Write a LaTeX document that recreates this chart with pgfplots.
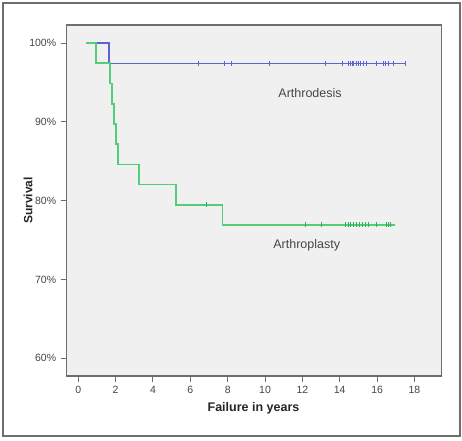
\documentclass[border=0pt]{standalone}
\usepackage{pgfplots}
\pgfplotsset{compat=1.18}
\usepackage{fontspec}
\setmainfont{Liberation Sans}
\definecolor{kmblue}{RGB}{90,100,215}
\definecolor{kmgreen}{RGB}{85,205,120}
\definecolor{kmgreenmark}{RGB}{40,180,80}
\definecolor{framegray}{RGB}{110,110,110}
\definecolor{bggray}{RGB}{240,240,240}
\definecolor{ticktext}{RGB}{70,70,70}
\begin{document}
\begin{tikzpicture}[x=1pt,y=1pt]
\useasboundingbox (0,0) rectangle (462,440);
\fill[white] (0,0) rectangle (462,440);
\draw[framegray, line width=2pt] (3,4) rectangle (459.5,437);
\begin{axis}[
  at={(66.7pt,64pt)}, anchor=south west,
  scale only axis, width=375pt, height=351pt,
  xmin=-0.62, xmax=19.46, ymin=57.75, ymax=102.3,
  axis background/.style={fill=bggray},
  axis line style={framegray, line width=1.2pt},
  tick align=outside, major tick length=6pt,
  tick style={framegray, line width=1pt},
  xtick={0,2,4,6,8,10,12,14,16,18},
  xticklabels={0,2,4,6,8,10,12,14,16,18},
  ytick={60,70,80,90,100},
  yticklabels={60\%,70\%,80\%,90\%,100\%},
  xtick pos=bottom, ytick pos=left,
  ticklabel style={font=\fontsize{10.5}{11}\selectfont, text=ticktext},
  every x tick label/.style={yshift=-1pt},
  every y tick label/.style={xshift=-1pt},
  clip=false,
]
% Arthrodesis
\addplot[draw=kmblue, line width=1.3pt, const plot, mark=none] coordinates {
 (0.41,100) (1.65,97.44) (17.55,97.44)};
\addplot[draw=kmblue, only marks, mark=|, mark size=2.5pt, mark options={draw=kmblue, line width=0.9pt}] coordinates {
 (6.46,97.44) (7.85,97.44) (8.18,97.44) (10.23,97.44) (13.21,97.44) (14.16,97.44)
 (14.46,97.44) (14.56,97.44) (14.66,97.44) (14.76,97.44) (14.87,97.44) (14.98,97.44)
 (15.09,97.44) (15.25,97.44) (15.45,97.44) (15.95,97.44) (16.34,97.44) (16.45,97.44)
 (16.6,97.44) (16.87,97.44) (17.54,97.44)};
% Arthroplasty
\addplot[draw=kmgreen, line width=1.6pt, const plot, mark=none] coordinates {
 (0.41,100) (0.94,97.44) (1.70,94.87) (1.80,92.31) (1.91,89.74) (2.02,87.18)
 (2.14,84.62) (3.25,82.05) (5.23,79.49) (7.73,76.92) (16.95,76.92)};
\addplot[draw=kmgreenmark, only marks, mark=|, mark size=2.5pt, mark options={draw=kmgreenmark, line width=0.9pt}] coordinates {
 (6.88,79.49) (12.14,76.92) (13.04,76.92) (14.3,76.92) (14.45,76.92) (14.6,76.92)
 (14.75,76.92) (14.9,76.92) (15.05,76.92) (15.2,76.92) (15.35,76.92) (15.53,76.92)
 (15.95,76.92) (16.52,76.92) (16.62,76.92) (16.7,76.92)};
\node[font=\fontsize{12.5}{13}\selectfont, text=ticktext] at (axis cs:12.41,93.69) {Arthrodesis};
\node[font=\fontsize{12.5}{13}\selectfont, text=ticktext] at (axis cs:12.23,74.39) {Arthroplasty};
\end{axis}
\node[rotate=90, font=\bfseries\fontsize{12}{13}\selectfont, text=black!85] at (28,239.5) {Survival};
\node[font=\bfseries\fontsize{12.5}{13}\selectfont, text=black!85] at (253.5,32) {Failure in years};
\end{tikzpicture}
\end{document}
